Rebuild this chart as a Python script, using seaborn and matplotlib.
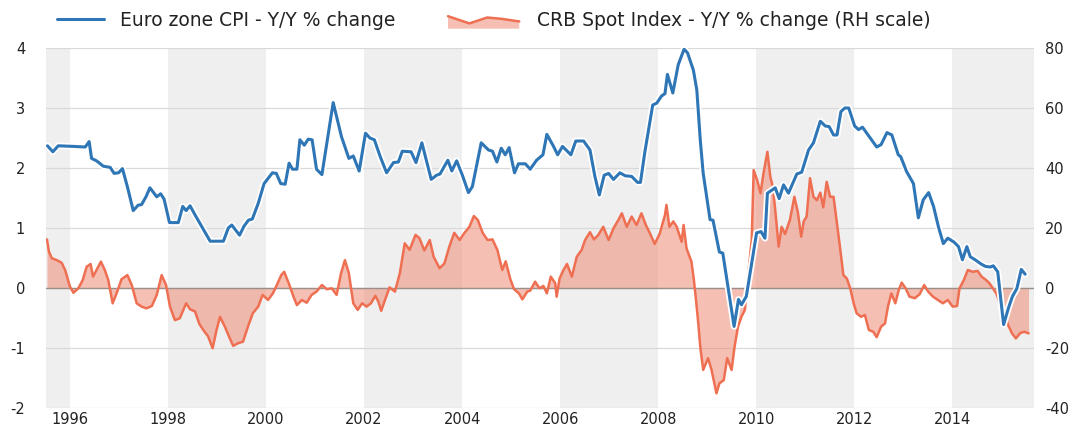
import matplotlib
matplotlib.use("Agg")
import matplotlib.pyplot as plt
import matplotlib.patheffects as pe
from matplotlib.legend_handler import HandlerBase
from matplotlib.lines import Line2D
from matplotlib.patches import Polygon, Patch
import seaborn as sns
import pandas as pd

# Euro zone CPI, Y/Y % change (left scale)
cpi_dates = [
    1995.54, 1995.65, 1995.76, 1996.07, 1996.31, 1996.39, 1996.44, 1996.54, 1996.68, 1996.82,
    1996.90, 1996.99, 1997.07, 1997.17, 1997.29, 1997.39, 1997.46, 1997.55, 1997.63, 1997.77,
    1997.85, 1997.92, 1998.03, 1998.21, 1998.30, 1998.37, 1998.45, 1998.55, 1998.69, 1998.86,
    1999.13, 1999.23, 1999.30, 1999.46, 1999.55, 1999.64, 1999.72, 1999.84, 1999.96, 2000.13,
    2000.21, 2000.30, 2000.39, 2000.47, 2000.54, 2000.63, 2000.69, 2000.78, 2000.86, 2000.94,
    2001.03, 2001.14, 2001.37, 2001.54, 2001.69, 2001.78, 2001.90, 2002.03, 2002.12, 2002.21,
    2002.33, 2002.46, 2002.60, 2002.70, 2002.78, 2002.96, 2003.06, 2003.18, 2003.37, 2003.48,
    2003.55, 2003.71, 2003.79, 2003.89, 2004.01, 2004.13, 2004.21, 2004.39, 2004.54, 2004.62,
    2004.71, 2004.80, 2004.88, 2004.96, 2005.07, 2005.15, 2005.29, 2005.39, 2005.52, 2005.65,
    2005.73, 2005.86, 2005.95, 2006.05, 2006.22, 2006.32, 2006.48, 2006.61, 2006.71, 2006.80,
    2006.90, 2006.99, 2007.09, 2007.22, 2007.33, 2007.46, 2007.58, 2007.64, 2007.73, 2007.89,
    2007.97, 2008.07, 2008.14, 2008.19, 2008.30, 2008.41, 2008.53, 2008.60, 2008.72, 2008.79,
    2008.86, 2008.92, 2009.06, 2009.12, 2009.25, 2009.32, 2009.55, 2009.64, 2009.70, 2009.80,
    2010.01, 2010.10, 2010.18, 2010.23, 2010.39, 2010.47, 2010.56, 2010.66, 2010.83, 2010.93,
    2011.07, 2011.17, 2011.31, 2011.41, 2011.49, 2011.58, 2011.65, 2011.73, 2011.81, 2011.89,
    2012.01, 2012.09, 2012.17, 2012.46, 2012.55, 2012.67, 2012.77, 2012.90, 2012.95, 2013.07,
    2013.21, 2013.31, 2013.41, 2013.52, 2013.62, 2013.72, 2013.82, 2013.91, 2014.03, 2014.13,
    2014.21, 2014.30, 2014.37, 2014.47, 2014.59, 2014.68, 2014.78, 2014.84, 2014.93, 2015.05,
    2015.15, 2015.23, 2015.32, 2015.41, 2015.49,
]
cpi_values = [
    2.37, 2.27, 2.37, 2.36, 2.35, 2.44, 2.16, 2.12, 2.03, 2.01,
    1.91, 1.92, 1.99, 1.69, 1.29, 1.38, 1.39, 1.52, 1.67, 1.52,
    1.57, 1.48, 1.09, 1.09, 1.36, 1.29, 1.37, 1.22, 1.02, 0.78,
    0.78, 1.00, 1.05, 0.88, 1.03, 1.13, 1.15, 1.41, 1.74, 1.92,
    1.91, 1.74, 1.73, 2.08, 1.98, 1.98, 2.47, 2.38, 2.48, 2.47,
    1.98, 1.89, 3.09, 2.52, 2.16, 2.20, 1.95, 2.58, 2.50, 2.47,
    2.19, 1.92, 2.09, 2.10, 2.28, 2.27, 2.09, 2.42, 1.81, 1.88,
    1.90, 2.13, 1.95, 2.12, 1.87, 1.59, 1.69, 2.42, 2.30, 2.28,
    2.10, 2.33, 2.22, 2.34, 1.92, 2.07, 2.07, 1.98, 2.13, 2.22,
    2.56, 2.37, 2.22, 2.36, 2.22, 2.45, 2.45, 2.30, 1.86, 1.55,
    1.88, 1.91, 1.81, 1.92, 1.87, 1.86, 1.76, 1.76, 2.27, 3.05,
    3.08, 3.20, 3.24, 3.56, 3.25, 3.72, 3.98, 3.92, 3.63, 3.30,
    2.47, 1.91, 1.14, 1.13, 0.60, 0.58, -0.64, -0.19, -0.28, -0.14,
    0.92, 0.94, 0.83, 1.58, 1.67, 1.49, 1.72, 1.58, 1.90, 1.93,
    2.30, 2.42, 2.78, 2.70, 2.69, 2.55, 2.55, 2.94, 3.00, 3.00,
    2.70, 2.64, 2.68, 2.35, 2.39, 2.59, 2.55, 2.22, 2.19, 1.94,
    1.74, 1.17, 1.47, 1.59, 1.36, 1.02, 0.74, 0.83, 0.77, 0.69,
    0.47, 0.69, 0.52, 0.47, 0.40, 0.36, 0.35, 0.37, 0.27, -0.61,
    -0.33, -0.14, -0.01, 0.31, 0.23,
]

# CRB Spot Index, Y/Y % change (right scale)
crb_dates = [
    1995.53, 1995.57, 1995.63, 1995.73, 1995.83, 1995.90, 1996.00, 1996.07, 1996.17, 1996.26,
    1996.34, 1996.42, 1996.47, 1996.54, 1996.63, 1996.71, 1996.78, 1996.87, 1996.95, 1997.05,
    1997.17, 1997.26, 1997.36, 1997.46, 1997.56, 1997.67, 1997.77, 1997.87, 1997.96, 1998.04,
    1998.14, 1998.24, 1998.37, 1998.45, 1998.55, 1998.64, 1998.72, 1998.82, 1998.91, 1998.99,
    1999.06, 1999.16, 1999.26, 1999.33, 1999.43, 1999.53, 1999.63, 1999.73, 1999.84, 1999.93,
    2000.04, 2000.14, 2000.22, 2000.31, 2000.37, 2000.47, 2000.56, 2000.63, 2000.73, 2000.83,
    2000.93, 2001.03, 2001.14, 2001.24, 2001.34, 2001.44, 2001.53, 2001.61, 2001.69, 2001.78,
    2001.87, 2001.96, 2002.05, 2002.14, 2002.23, 2002.29, 2002.35, 2002.44, 2002.52, 2002.63,
    2002.73, 2002.83, 2002.93, 2003.05, 2003.13, 2003.23, 2003.34, 2003.42, 2003.54, 2003.64,
    2003.74, 2003.84, 2003.95, 2004.05, 2004.15, 2004.24, 2004.32, 2004.42, 2004.52, 2004.62,
    2004.72, 2004.82, 2004.89, 2004.98, 2005.06, 2005.16, 2005.23, 2005.33, 2005.39, 2005.49,
    2005.58, 2005.66, 2005.73, 2005.81, 2005.90, 2005.93, 2005.99, 2006.07, 2006.14, 2006.24,
    2006.34, 2006.44, 2006.51, 2006.61, 2006.69, 2006.78, 2006.88, 2006.99, 2007.09, 2007.19,
    2007.26, 2007.36, 2007.46, 2007.56, 2007.66, 2007.75, 2007.84, 2007.93, 2008.03, 2008.14,
    2008.17, 2008.23, 2008.31, 2008.38, 2008.48, 2008.52, 2008.58, 2008.68, 2008.73, 2008.78,
    2008.82, 2008.86, 2008.92, 2009.02, 2009.09, 2009.19, 2009.25, 2009.34, 2009.41, 2009.50,
    2009.56, 2009.63, 2009.70, 2009.77, 2009.84, 2009.91, 2009.95, 2010.02, 2010.09, 2010.15,
    2010.23, 2010.29, 2010.34, 2010.39, 2010.46, 2010.52, 2010.59, 2010.69, 2010.78, 2010.85,
    2010.92, 2010.97, 2011.03, 2011.10, 2011.17, 2011.24, 2011.31, 2011.37, 2011.44, 2011.51,
    2011.58, 2011.65, 2011.71, 2011.78, 2011.85, 2011.92, 2011.99, 2012.05, 2012.14, 2012.22,
    2012.30, 2012.39, 2012.46, 2012.55, 2012.63, 2012.69, 2012.76, 2012.84, 2012.91, 2012.97,
    2013.05, 2013.13, 2013.24, 2013.34, 2013.43, 2013.51, 2013.61, 2013.71, 2013.81, 2013.91,
    2014.01, 2014.10, 2014.15, 2014.24, 2014.32, 2014.42, 2014.52, 2014.60, 2014.69, 2014.76,
    2014.83, 2014.90, 2014.99, 2015.07, 2015.14, 2015.22, 2015.30, 2015.39, 2015.47, 2015.56,
]
crb_values = [
    16.2, 12.1, 9.9, 9.3, 8.4, 6.0, 0.4, -1.6, -0.1, 2.7,
    7.1, 8.0, 3.8, 6.0, 8.8, 6.0, 2.7, -5.1, -1.8, 2.9,
    4.3, 1.0, -5.1, -6.2, -6.8, -6.0, -2.3, 4.3, 1.0, -6.2,
    -10.7, -10.1, -5.1, -7.1, -7.8, -12.0, -14.0, -16.2, -20.1, -14.0,
    -9.6, -12.9, -16.8, -19.3, -18.4, -17.9, -12.9, -8.4, -6.2, -2.3,
    -4.0, -1.8, 1.0, 4.3, 5.4, 1.3, -2.9, -5.7, -4.0, -4.9,
    -2.3, -1.2, 1.0, -0.4, -0.1, -2.3, 4.9, 9.3, 4.9, -5.1,
    -7.3, -5.1, -6.2, -5.1, -2.6, -4.5, -7.6, -3.4, 0.2, -1.2,
    4.9, 14.9, 12.7, 17.7, 16.6, 12.5, 16.0, 10.4, 6.6, 8.2,
    13.8, 18.4, 16.0, 18.4, 20.4, 24.0, 22.7, 18.4, 16.0, 16.2,
    12.7, 6.0, 8.9, 3.2, -0.4, -1.8, -3.8, -1.2, -0.9, 2.1,
    -0.1, 0.7, -1.8, 3.8, 1.6, -2.9, 3.2, 6.0, 8.0, 3.8,
    10.4, 12.7, 16.0, 18.6, 16.2, 17.7, 20.4, 16.0, 19.9, 22.7,
    24.9, 20.4, 23.8, 21.0, 24.9, 21.0, 18.0, 14.7, 18.0, 24.3,
    27.7, 20.4, 22.2, 20.4, 15.4, 21.0, 13.2, 8.8, 2.7, -5.1,
    -11.8, -19.6, -27.3, -23.4, -27.3, -35.1, -31.8, -30.7, -23.4, -27.3,
    -19.6, -12.9, -9.6, -7.3, 4.9, 16.0, 39.3, 36.0, 31.6, 38.2,
    45.4, 37.1, 33.8, 26.0, 13.8, 20.4, 18.0, 22.7, 30.4, 25.4,
    17.1, 22.2, 23.8, 36.6, 30.4, 29.3, 31.8, 26.9, 35.4, 30.4,
    30.4, 21.6, 13.8, 4.3, 3.2, -0.1, -5.1, -8.4, -9.6, -9.0,
    -14.0, -14.6, -16.4, -12.9, -11.8, -6.2, -1.8, -5.1, -0.7, 1.8,
    -0.1, -2.9, -3.4, -2.0, 1.0, -1.2, -2.9, -4.0, -5.1, -4.0,
    -6.2, -6.0, -0.1, 2.7, 6.0, 5.4, 5.7, 3.8, 2.7, 1.6,
    -0.1, -1.8, -5.7, -8.4, -12.3, -15.1, -16.8, -15.0, -14.6, -15.1,
]

year_ticks = [1996, 1998, 2000, 2002, 2004, 2006, 2008, 2010, 2012, 2014]
left_ticks = [-2, -1, 0, 1, 2, 3, 4]
right_ticks = [-40, -20, 0, 20, 40, 60, 80]
shaded_years = [(1994, 1996), (1998, 2000), (2002, 2004), (2006, 2008), (2010, 2012), (2014, 2016)]

cpi_label = "Euro zone CPI - Y/Y % change"
crb_label = "CRB Spot Index - Y/Y % change (RH scale)"

BLUE = "#2f76b6"
RED = "#ee6f52"
FILL = "#f08c75"

sns.set_theme(style="white")
plt.rcParams["font.family"] = ["DejaVu Sans"]

cpi = pd.DataFrame({"date": cpi_dates, "value": cpi_values})
crb = pd.DataFrame({"date": crb_dates, "value": crb_values})

fig = plt.figure(figsize=(10.77, 4.28), dpi=100)
ax = fig.add_axes([46 / 1077, 1 - 408 / 428, (1034 - 46) / 1077, 360 / 428])
ax2 = ax.twinx()
ax.set_zorder(ax2.get_zorder() + 1)
ax.patch.set_visible(False)

# background bands and grid on the right axis (drawn underneath)
for a, b in shaded_years:
    ax2.axvspan(a, b, color="#efefef", lw=0, zorder=0)
for t in right_ticks:
    ax2.axhline(t, color="#d9d9d9", lw=0.9, zorder=1)

ax2.fill_between(crb["date"], 0, crb["value"], color=FILL, alpha=0.55, lw=0, zorder=2)
ax2.axhline(0, color="#9c8f8a", lw=1.0, zorder=3)
sns.lineplot(data=crb, x="date", y="value", ax=ax2, color=RED, lw=1.8,
             estimator=None, sort=False, zorder=4)

sns.lineplot(data=cpi, x="date", y="value", ax=ax, color=BLUE, lw=2.2,
             estimator=None, sort=False,
             path_effects=[pe.Stroke(linewidth=4.8, foreground="white"), pe.Normal()])

ax.set_xlim(1995.51, 2015.67)
ax.set_ylim(-2, 4)
ax2.set_ylim(-40, 80)

ax.set_xticks(year_ticks)
ax.set_xticklabels([str(y) for y in year_ticks])
ax.set_yticks(left_ticks)
ax.set_yticklabels([str(v) for v in left_ticks])
ax2.set_yticks(right_ticks)
ax2.set_yticklabels([str(v) for v in right_ticks])

for a in (ax, ax2):
    a.set_xlabel("")
    a.set_ylabel("")
    for s in a.spines.values():
        s.set_visible(False)
    a.tick_params(length=0, labelsize=10.5, colors="#222222")
ax.tick_params(axis="y", pad=15)
ax.tick_params(axis="x", pad=3)
ax2.tick_params(axis="y", pad=8)


class ZigzagHandler(HandlerBase):
    def create_artists(self, legend, orig_handle, xdescent, ydescent, width, height, fontsize, trans):
        xs = [0, 0.3, 0.55, 0.75, 1.0]
        ys = [0.75, 0.2, 0.65, 0.55, 0.35]
        px = [-xdescent + x * width for x in xs]
        py = [-ydescent + y * height for y in ys]
        poly = Polygon(list(zip(px, py)) + [(px[-1], -ydescent - 0.2 * height),
                                            (px[0], -ydescent - 0.2 * height)],
                       closed=True, facecolor=FILL, alpha=0.55, lw=0, transform=trans)
        line = Line2D(px, py, color=RED, lw=1.8, transform=trans)
        return [poly, line]


leg_kw = dict(loc="center left", frameon=False, fontsize=13.5, labelcolor="#222222",
              borderaxespad=0, borderpad=0)
# two separate legends so each handle can get its own length
leg1 = fig.legend([Line2D([0], [0], color=BLUE, lw=2.2)], [cpi_label],
                  bbox_to_anchor=(57 / 1077, 0.952), handlelength=2.5,
                  handletextpad=0.85, **leg_kw)
fig.legend([Patch(color=FILL)], [crb_label], bbox_to_anchor=(448 / 1077, 0.952),
           handlelength=3.8, handletextpad=0.95,
           handler_map={Patch: ZigzagHandler()}, **leg_kw)

fig.savefig("out.png", dpi=100)
